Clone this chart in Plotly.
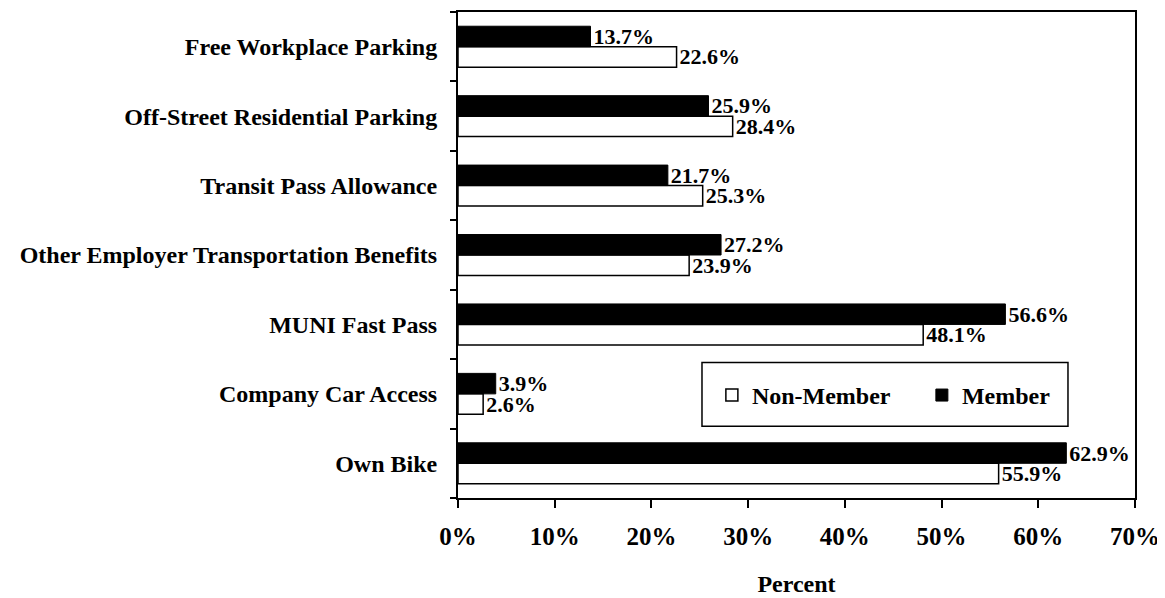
import plotly.graph_objects as go

categories = ["Own Bike", "Company Car Access", "MUNI Fast Pass",
              "Other Employer Transportation Benefits", "Transit Pass Allowance",
              "Off-Street Residential Parking", "Free Workplace Parking"]
non_member = [55.9, 2.6, 48.1, 23.9, 25.3, 28.4, 22.6]
member = [62.9, 3.9, 56.6, 27.2, 21.7, 25.9, 13.7]
x_ticks = [0, 10, 20, 30, 40, 50, 60, 70]
x_tick_text = ["0%", "10%", "20%", "30%", "40%", "50%", "60%", "70%"]

FONT = "Liberation Serif"
fig = go.Figure()
fig.add_trace(go.Bar(
    y=categories, x=non_member, orientation="h", name="<b>Non-Member</b>",
    marker=dict(color="white", line=dict(color="black", width=1.5)),
    text=[f"<b>{v:.1f}%</b>" for v in non_member], textposition="outside",
    textfont=dict(family=FONT, size=22, color="black"),
    constraintext="none", cliponaxis=False,
))
fig.add_trace(go.Bar(
    y=categories, x=member, orientation="h", name="<b>Member</b>",
    marker=dict(color="black", line=dict(color="black", width=1)),
    text=[f"<b>{v:.1f}%</b>" for v in member], textposition="outside",
    textfont=dict(family=FONT, size=22, color="black"),
    constraintext="none", cliponaxis=False,
))

fig.update_layout(
    width=1157, height=590,
    margin=dict(l=450, r=30, t=2, b=100),
    barmode="group", bargap=0.41, bargroupgap=0,
    plot_bgcolor="white", paper_bgcolor="white",
    font=dict(family=FONT, size=24, color="black"),
    legend=dict(
        orientation="h", x=0.375, y=0.211, xanchor="left", yanchor="middle",
        borderwidth=0, bgcolor="rgba(0,0,0,0)",
        font=dict(family=FONT, size=24, color="black"),
        itemwidth=30, entrywidth=165,
    ),
    shapes=[dict(type="rect", xref="paper", yref="paper",
                 x0=0.3604, x1=0.901, y0=0.1475, y1=0.2787,
                 line=dict(color="black", width=1.5), fillcolor="white", layer="above")],
    showlegend=True,
)
fig.update_xaxes(
    range=[0, 70], tickvals=x_ticks, ticktext=[f"<b>{t}</b>" for t in x_tick_text],
    showline=True, linecolor="black", linewidth=2, mirror=True,
    ticks="outside", ticklen=8, tickwidth=2, tickcolor="black",
    ticklabelstandoff=7, showgrid=False, zeroline=False,
    tickfont=dict(family=FONT, size=25),
    title=dict(text="<b>Percent</b>", font=dict(family=FONT, size=24), standoff=26),
)
fig.update_yaxes(
    categoryorder="array", categoryarray=categories,
    tickvals=categories, ticktext=[f"<b>{c}</b>" for c in categories],
    showline=True, linecolor="black", linewidth=2, mirror=True,
    ticks="outside", ticklen=6, tickwidth=2, tickcolor="black",
    tickson="boundaries", ticklabelstandoff=14, showgrid=False,
    tickfont=dict(family=FONT, size=24),
)
fig.write_html("out.html")
